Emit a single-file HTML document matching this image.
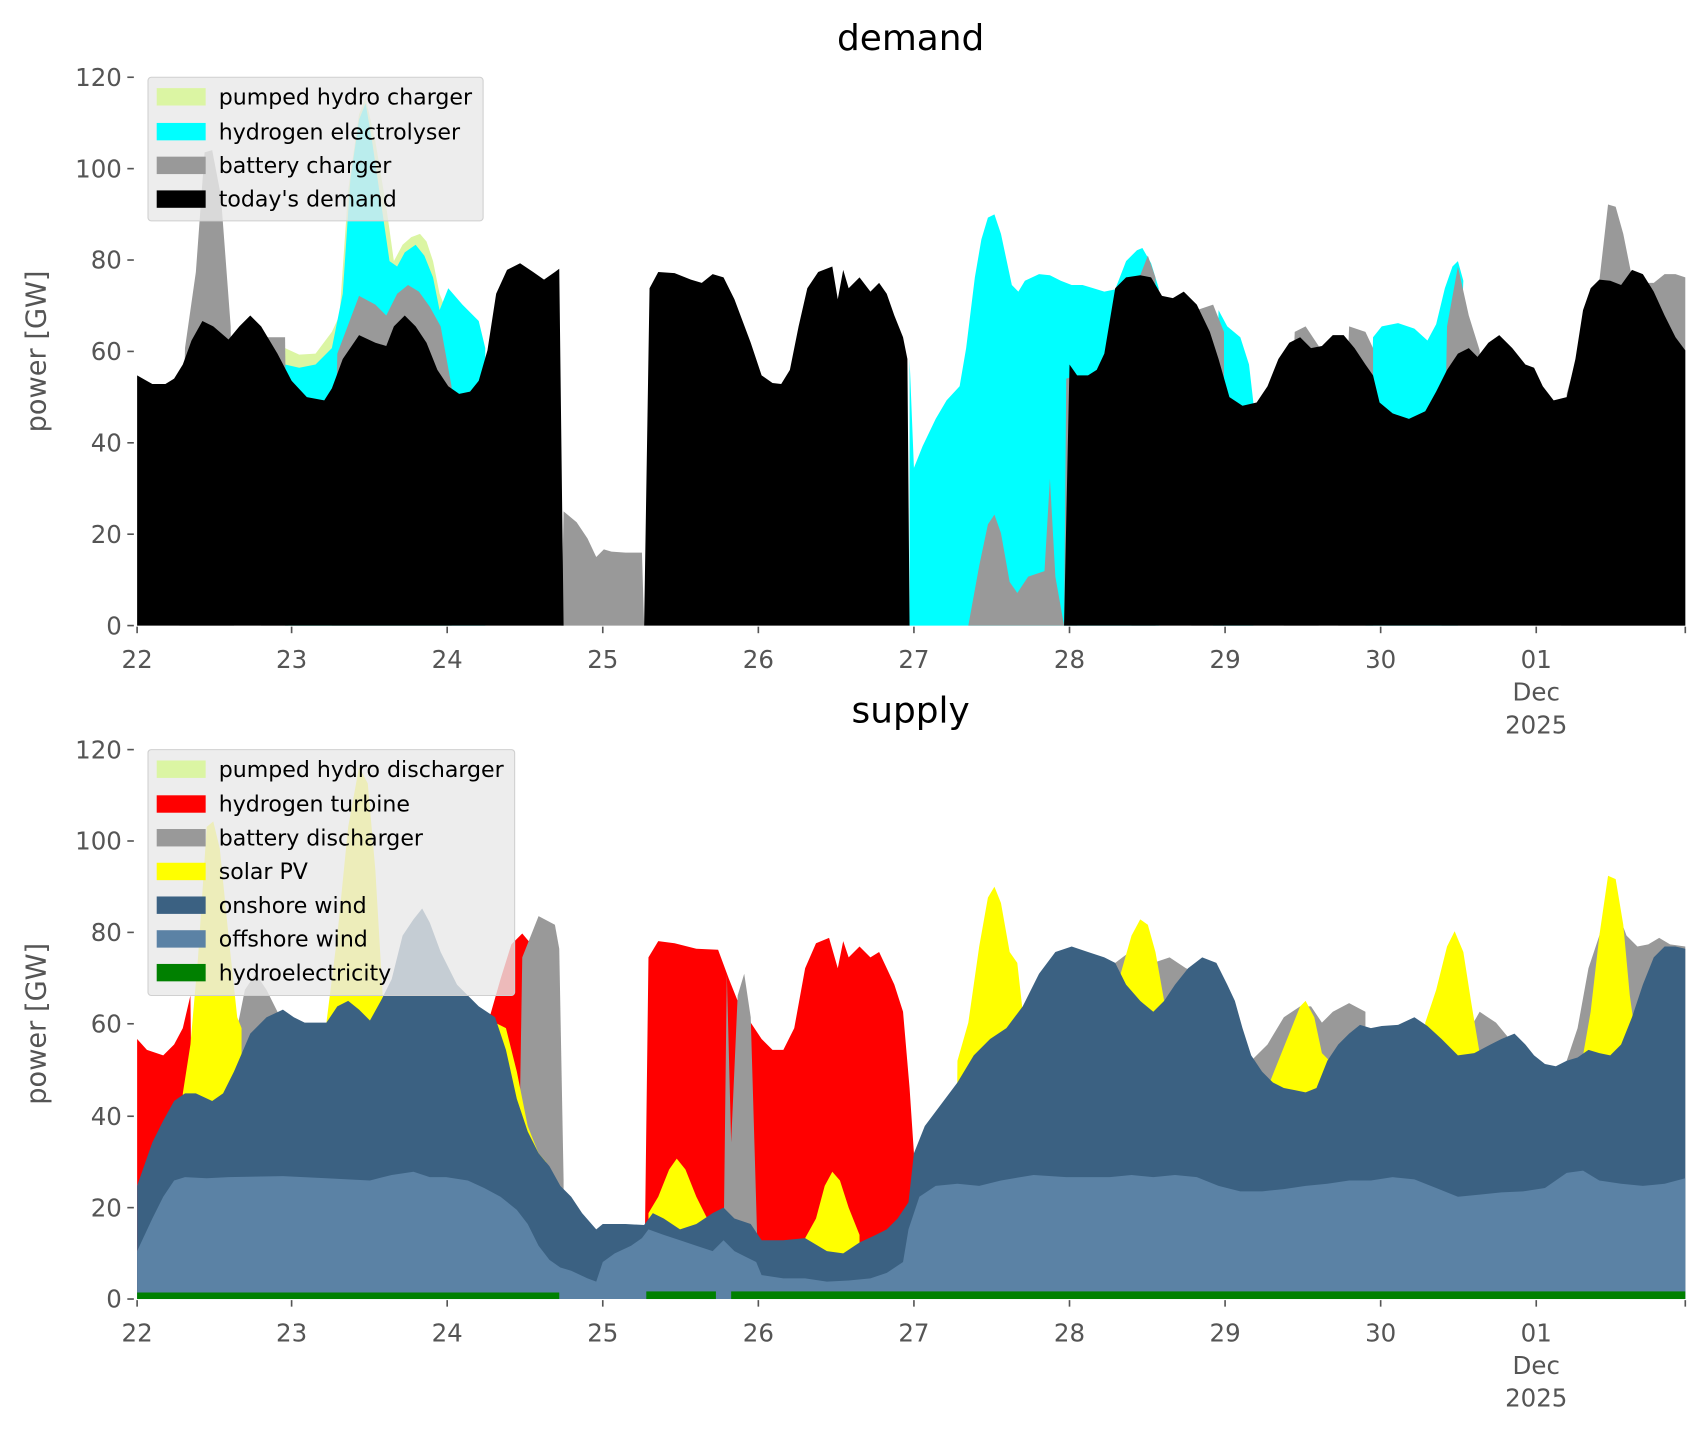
<!DOCTYPE html>
<html><head><meta charset="utf-8"><style>html,body{margin:0;padding:0;background:#fff}svg{display:block}</style></head><body>
<svg width="1706" height="1431" viewBox="0 0 1568 1315.3" xmlns="http://www.w3.org/2000/svg" font-family="DejaVu Sans, Liberation Sans, sans-serif">
<rect width="1568" height="1316" fill="#fff"/>
<!-- TOP CHART -->
<g>
<polygon fill="#dbf5a3" points="262,575 262,320 275,326 290,325 305,305 312,290 320,175 330,105 336,90 345,130 355,190 362,240 370,225 378,218 386,215 392,222 398,240 404,270 412,290 412,575"/>
<polygon fill="#00ffff" points="262,575 262,335 275,338 290,335 305,320 315,270 322,165 330,110 336,95 342,130 350,185 358,240 365,245 372,232 382,225 390,235 398,255 404,285 412,265 425,280 440,295 446,320 446,575"/>
<polygon fill="#00ffff" points="836,575 836,330 840,430 848,410 860,385 870,368 882,355 888,320 896,255 902,220 908,200 914,197 920,215 930,262 936,268 942,258 955,252 965,253 975,258 985,262 995,262 1005,265 1015,268 1025,266 1035,240 1045,230 1050,228 1058,242 1065,265 1065,575"/>
<polygon fill="#00ffff" points="1115,575 1120,285 1128,300 1140,310 1148,335 1152,370 1152,575"/>
<polygon fill="#00ffff" points="1255,575 1262,310 1270,300 1285,297 1300,302 1312,313 1320,298 1328,265 1335,245 1340,240 1345,258 1342,330 1340,575"/>
<g fill="#999">
<polygon points="165,575 170,320 180,250 188,140 195,138 203,180 212,300 215,575"/>
<polygon points="240,575 245,310 262,310 265,575"/>
<polygon points="305,575 310,325 330,272 345,280 355,290 365,270 375,262 385,268 395,282 405,300 415,355 415,575"/>
<polygon points="516,575 518,470 530,480 540,495 548,512 555,505 562,507 575,508 590,508 592,575"/>
<polygon points="886,575 890,575 900,520 908,482 914,473 920,490 928,535 935,545 945,530 960,525 965,440 970,530 978,575"/>
<polygon points="978,575 980,348 990,345 990,575"/>
<polygon points="1040,575 1048,253 1055,235 1062,255 1062,575"/>
<polygon points="1095,575 1100,285 1115,280 1125,305 1125,575"/>
<polygon points="1180,575 1190,305 1200,300 1212,318 1212,575"/>
<polygon points="1230,575 1240,300 1255,305 1262,320 1262,575"/>
<polygon points="1325,575 1330,300 1340,245 1350,290 1360,322 1360,575"/>
<polygon points="1435,575 1440,362 1455,308 1470,258 1478,188 1485,190 1492,215 1500,255 1510,260 1520,260 1530,252 1540,252 1549,255 1549,575"/>
</g>
<g fill="#000">
<polygon points="126,575 126,345 140,353 152,353 160,348 168,335 176,313 186,295 196,300 210,312 220,300 230,290 240,300 255,325 268,350 282,365 298,368 305,357 315,330 330,308 345,315 355,318 362,300 372,290 382,300 392,315 402,340 412,355 422,362 432,360 440,350 448,322 456,270 466,248 478,242 490,250 500,257 510,250 514,247 518,575"/>
<polygon points="592,575 597,265 605,250 620,251 635,257 645,260 655,252 665,255 675,275 690,315 700,345 710,352 718,353 726,340 734,300 742,265 752,250 765,245 770,275 775,248 780,265 790,255 800,268 808,260 815,270 822,290 830,310 834,330 836,575"/>
<polygon points="978,575 983,335 990,345 1000,345 1008,340 1015,325 1025,265 1035,255 1048,253 1058,255 1068,272 1078,274 1088,268 1100,280 1112,305 1120,330 1130,365 1142,373 1155,370 1165,355 1175,330 1185,315 1195,310 1205,320 1215,318 1225,308 1235,308 1245,320 1255,335 1262,345 1268,370 1280,380 1295,385 1310,378 1320,360 1330,340 1340,325 1350,320 1358,328 1368,315 1378,308 1390,320 1402,335 1410,338 1418,355 1428,368 1440,365 1448,330 1455,285 1462,265 1470,257 1480,258 1490,262 1500,248 1510,252 1520,268 1530,290 1540,310 1549,322 1549,575"/>
</g>
<text x="837" y="46" font-size="33" text-anchor="middle" fill="#000">demand</text>
<g stroke="#555" stroke-width="1.5">
<line x1="117" y1="575" x2="123" y2="575"/><line x1="117" y1="491" x2="123" y2="491"/><line x1="117" y1="407" x2="123" y2="407"/><line x1="117" y1="323" x2="123" y2="323"/><line x1="117" y1="239" x2="123" y2="239"/><line x1="117" y1="155" x2="123" y2="155"/><line x1="117" y1="71" x2="123" y2="71"/>
<line x1="126" y1="576" x2="126" y2="582"/><line x1="268" y1="576" x2="268" y2="582"/><line x1="411" y1="576" x2="411" y2="582"/><line x1="554" y1="576" x2="554" y2="582"/><line x1="697" y1="576" x2="697" y2="582"/><line x1="840" y1="576" x2="840" y2="582"/><line x1="983" y1="576" x2="983" y2="582"/><line x1="1126" y1="576" x2="1126" y2="582"/><line x1="1269" y1="576" x2="1269" y2="582"/><line x1="1412" y1="576" x2="1412" y2="582"/><line x1="1549" y1="576" x2="1549" y2="582"/>
</g>
<g font-size="22.5" fill="#555" text-anchor="end">
<text x="112" y="583">0</text><text x="112" y="499">20</text><text x="112" y="415">40</text><text x="112" y="331">60</text><text x="112" y="247">80</text><text x="112" y="163">100</text><text x="112" y="79">120</text>
</g>
<g font-size="22.5" fill="#555" text-anchor="middle">
<text x="126" y="614">22</text><text x="268" y="614">23</text><text x="411" y="614">24</text><text x="554" y="614">25</text><text x="697" y="614">26</text><text x="840" y="614">27</text><text x="983" y="614">28</text><text x="1126" y="614">29</text><text x="1269" y="614">30</text><text x="1412" y="614">01</text><text x="1412" y="644">Dec</text><text x="1412" y="674">2025</text>
</g>
<text transform="translate(42,323) rotate(-90)" font-size="25" fill="#555" text-anchor="middle">power [GW]</text>
<rect x="136" y="71" width="308" height="132" rx="3" fill="rgba(232,232,232,0.8)" stroke="#d0d0d0"/>
<rect x="144" y="81" width="45" height="16" fill="#dbf5a3"/><rect x="144" y="113" width="45" height="16" fill="#00ffff"/><rect x="144" y="144" width="45" height="16" fill="#999"/><rect x="144" y="175" width="45" height="16" fill="#000"/>
<g font-size="20.3" fill="#000"><text x="201" y="96">pumped hydro charger</text><text x="201" y="128">hydrogen electrolyser</text><text x="201" y="159">battery charger</text><text x="201" y="190">today's demand</text></g>
</g>
<!-- BOTTOM CHART -->
<g>
<g fill="#ff0000">
<polygon points="126,1194 126,955 135,965 150,970 160,960 168,945 175,915 178,1194"/>
<polygon points="440,1194 450,935 460,900 470,868 480,858 490,870 500,875 512,865 514,1194"/>
<polygon points="592,1194 596,880 605,865 620,867 640,872 660,873 670,900 680,925 690,940 700,955 710,965 720,965 730,945 740,890 750,867 762,862 770,890 775,865 780,880 790,870 800,880 808,875 815,890 822,905 830,930 836,1000 840,1060 840,1194"/>
</g>
<g fill="#999">
<polygon points="205,1194 205,1000 215,960 225,910 235,895 245,910 255,930 255,1194"/>
<polygon points="475,1194 480,880 495,842 510,850 514,872 518,1085 518,1194"/>
<polygon points="665,1194 665,1150 668,895 672,1050 678,915 684,895 690,935 696,1140 696,1194"/>
<polygon points="1020,1194 1025,885 1045,870 1060,885 1075,880 1090,890 1110,898 1125,910 1125,1194"/>
<polygon points="1145,1194 1150,975 1165,960 1180,935 1195,925 1205,925 1215,940 1225,930 1240,922 1255,930 1255,1194"/>
<polygon points="1335,1194 1340,965 1360,930 1375,940 1385,952 1400,975 1410,980 1410,1194"/>
<polygon points="1440,1194 1440,975 1450,945 1460,890 1470,860 1480,820 1495,860 1505,870 1515,868 1525,862 1535,868 1549,870 1549,1194"/>
</g>
<g fill="#ffff00">
<polygon points="165,1194 168,1005 175,960 182,880 190,760 196,755 202,780 210,860 218,935 222,945 222,1194"/>
<polygon points="298,1194 300,940 310,860 320,760 330,705 338,720 345,800 352,920 356,920 356,1194"/>
<polygon points="452,1194 455,940 465,945 475,985 485,1035 495,1060 502,1068 502,1194"/>
<polygon points="596,1194 596,1115 605,1100 615,1075 622,1065 630,1075 640,1100 650,1120 650,1194"/>
<polygon points="738,1194 740,1138 750,1120 758,1090 765,1077 772,1085 780,1110 790,1135 790,1194"/>
<polygon points="878,1194 880,975 890,940 900,870 908,825 914,815 920,830 928,875 935,885 940,930 940,1194"/>
<polygon points="1028,1194 1030,895 1040,860 1048,845 1055,850 1062,875 1070,920 1072,1194"/>
<polygon points="1165,1194 1165,1000 1175,975 1185,950 1195,925 1200,920 1208,935 1215,968 1222,975 1222,1194"/>
<polygon points="1308,1194 1310,940 1320,910 1330,870 1337,856 1345,875 1352,920 1360,968 1362,1194"/>
<polygon points="1452,1194 1455,970 1462,930 1470,860 1478,805 1485,808 1492,850 1498,915 1505,965 1505,1194"/>
</g>
<polygon fill="#3b6182" points="126,1194 126,1090 140,1050 150,1030 160,1012 170,1005 180,1005 195,1012 205,1005 215,985 230,950 245,935 260,928 270,935 280,940 300,940 310,925 320,920 330,928 340,938 350,920 360,900 370,860 380,845 388,835 395,848 405,875 420,905 440,925 455,935 465,965 475,1010 485,1040 495,1060 505,1072 515,1090 525,1100 535,1115 548,1130 554,1125 560,1125 575,1125 592,1126 600,1115 610,1120 625,1130 640,1125 655,1115 665,1110 675,1120 690,1125 700,1140 720,1140 740,1138 760,1150 775,1152 790,1142 805,1135 815,1130 825,1120 835,1105 840,1060 850,1035 865,1015 880,995 895,970 910,955 925,945 940,925 955,895 970,875 985,870 1000,875 1015,880 1025,885 1035,905 1048,920 1060,930 1070,920 1080,905 1092,890 1105,880 1118,885 1128,905 1135,920 1142,945 1150,970 1160,985 1170,995 1180,1000 1190,1002 1200,1004 1210,1000 1220,975 1230,960 1240,950 1250,942 1260,945 1270,943 1285,942 1300,935 1312,943 1325,955 1340,970 1355,968 1370,960 1380,955 1392,950 1402,960 1410,970 1420,978 1430,980 1440,975 1450,972 1460,965 1470,968 1480,970 1490,960 1500,935 1510,905 1520,880 1530,870 1540,870 1549,872 1549,1194"/>
<polygon fill="#5b82a5" points="126,1194 126,1150 140,1120 150,1100 160,1085 170,1082 190,1083 210,1082 260,1081 300,1083 340,1085 360,1080 380,1077 395,1082 410,1082 430,1085 445,1092 460,1100 475,1112 485,1125 495,1145 505,1158 515,1165 525,1168 540,1175 548,1178 554,1160 565,1152 580,1145 590,1138 596,1130 610,1135 625,1140 640,1145 655,1150 665,1140 675,1150 685,1155 695,1160 700,1172 720,1175 740,1175 760,1178 780,1177 800,1175 815,1170 830,1160 835,1130 845,1100 860,1090 880,1088 900,1090 920,1085 950,1080 980,1082 1020,1082 1040,1080 1060,1082 1080,1080 1100,1082 1120,1090 1140,1095 1160,1095 1180,1093 1200,1090 1220,1088 1240,1085 1260,1085 1280,1082 1300,1084 1320,1092 1340,1100 1360,1098 1380,1096 1400,1095 1420,1092 1440,1078 1455,1076 1470,1085 1490,1088 1510,1090 1530,1088 1549,1083 1549,1194"/>
<rect x="126" y="1188" width="388" height="6" fill="#008000"/>
<rect x="594" y="1187" width="64" height="7" fill="#008000"/>
<rect x="672" y="1187" width="877" height="7" fill="#008000"/>
<text x="837" y="664" font-size="33" text-anchor="middle" fill="#000">supply</text>
<g stroke="#555" stroke-width="1.5">
<line x1="117" y1="1194" x2="123" y2="1194"/><line x1="117" y1="1110" x2="123" y2="1110"/><line x1="117" y1="1026" x2="123" y2="1026"/><line x1="117" y1="941" x2="123" y2="941"/><line x1="117" y1="857" x2="123" y2="857"/><line x1="117" y1="773" x2="123" y2="773"/><line x1="117" y1="689" x2="123" y2="689"/>
<line x1="126" y1="1195" x2="126" y2="1201"/><line x1="268" y1="1195" x2="268" y2="1201"/><line x1="411" y1="1195" x2="411" y2="1201"/><line x1="554" y1="1195" x2="554" y2="1201"/><line x1="697" y1="1195" x2="697" y2="1201"/><line x1="840" y1="1195" x2="840" y2="1201"/><line x1="983" y1="1195" x2="983" y2="1201"/><line x1="1126" y1="1195" x2="1126" y2="1201"/><line x1="1269" y1="1195" x2="1269" y2="1201"/><line x1="1412" y1="1195" x2="1412" y2="1201"/><line x1="1549" y1="1195" x2="1549" y2="1201"/>
</g>
<g font-size="22.5" fill="#555" text-anchor="end">
<text x="112" y="1202">0</text><text x="112" y="1118">20</text><text x="112" y="1034">40</text><text x="112" y="949">60</text><text x="112" y="865">80</text><text x="112" y="781">100</text><text x="112" y="697">120</text>
</g>
<g font-size="22.5" fill="#555" text-anchor="middle">
<text x="126" y="1233">22</text><text x="268" y="1233">23</text><text x="411" y="1233">24</text><text x="554" y="1233">25</text><text x="697" y="1233">26</text><text x="840" y="1233">27</text><text x="983" y="1233">28</text><text x="1126" y="1233">29</text><text x="1269" y="1233">30</text><text x="1412" y="1233">01</text><text x="1412" y="1263">Dec</text><text x="1412" y="1293">2025</text>
</g>
<text transform="translate(42,941) rotate(-90)" font-size="25" fill="#555" text-anchor="middle">power [GW]</text>
<rect x="136" y="689" width="337" height="226" rx="3" fill="rgba(232,232,232,0.8)" stroke="#d0d0d0"/>
<rect x="144" y="699" width="45" height="16" fill="#dbf5a3"/><rect x="144" y="731" width="45" height="16" fill="#ff0000"/><rect x="144" y="762" width="45" height="16" fill="#999"/><rect x="144" y="793" width="45" height="16" fill="#ffff00"/><rect x="144" y="824" width="45" height="16" fill="#3b6182"/><rect x="144" y="855" width="45" height="16" fill="#5b82a5"/><rect x="144" y="886" width="45" height="16" fill="#008000"/>
<g font-size="20.3" fill="#000"><text x="201" y="714">pumped hydro discharger</text><text x="201" y="746">hydrogen turbine</text><text x="201" y="777">battery discharger</text><text x="201" y="808">solar PV</text><text x="201" y="839">onshore wind</text><text x="201" y="870">offshore wind</text><text x="201" y="901">hydroelectricity</text></g>
</g>
</svg>
</body></html>
